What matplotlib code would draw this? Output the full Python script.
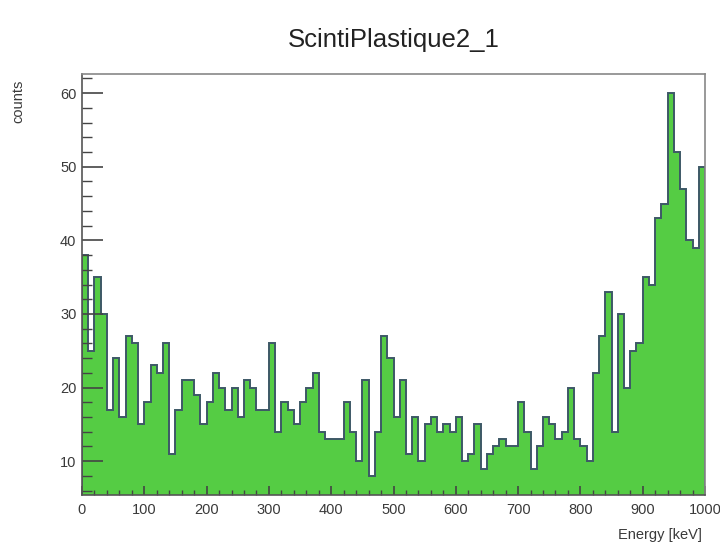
import matplotlib
matplotlib.use("Agg")
import matplotlib.pyplot as plt
import numpy as np
from matplotlib.ticker import MultipleLocator

title = "ScintiPlastique2_1"
x_label = "Energy [keV]"
y_label = "counts"
energy_min, energy_max = 0, 1000

counts = [
    38, 25, 35, 30, 17, 24, 16, 27, 26, 15,
    18, 23, 22, 26, 11, 17, 21, 21, 19, 15,
    18, 22, 20, 17, 20, 16, 21, 20, 17, 17,
    26, 14, 18, 17, 15, 18, 20, 22, 14, 13,
    13, 13, 18, 14, 10, 21, 8, 14, 27, 24,
    16, 21, 11, 16, 10, 15, 16, 14, 15, 14,
    16, 10, 11, 15, 9, 11, 12, 13, 12, 12,
    18, 14, 9, 12, 16, 15, 13, 14, 20, 13,
    12, 10, 22, 27, 33, 14, 30, 20, 25, 26,
    35, 34, 43, 45, 60, 52, 47, 40, 39, 50,
]
edges = np.linspace(energy_min, energy_max, len(counts) + 1)

plt.rcParams["font.family"] = ["Liberation Sans", "DejaVu Sans"]

W, H = 720, 547
fig = plt.figure(figsize=(W / 100, H / 100), dpi=100)
ax = fig.add_axes([82 / W, 52 / H, 623 / W, 421 / H])

fill_color = "#55cc44"
line_color = "#3d5866"
ax.stairs(counts, edges, fill=True, color=fill_color, baseline=0)
ax.stairs(counts, edges, color=line_color, lw=1.4, baseline=0)

ax.set_xlim(energy_min, energy_max)
ax.set_ylim(5.4, 62.6)

ax.xaxis.set_major_locator(MultipleLocator(100))
ax.xaxis.set_minor_locator(MultipleLocator(20))
ax.yaxis.set_major_locator(MultipleLocator(10))
ax.yaxis.set_minor_locator(MultipleLocator(2))

ax.tick_params(which="both", direction="in", top=False, right=False,
               colors="#444444", labelcolor="#3a3a3a", labelsize=10.5)
ax.tick_params(axis="y", which="major", length=15, width=1.2, pad=4)
ax.tick_params(axis="y", which="minor", length=7, width=1.0)
ax.tick_params(axis="x", which="major", length=6.5, width=1.2, pad=6)
ax.tick_params(axis="x", which="minor", length=3.6, width=1.0)

for side in ["top", "right"]:
    ax.spines[side].set_color("#888888")
    ax.spines[side].set_linewidth(1.2)
for side in ["left", "bottom"]:
    ax.spines[side].set_color("#555555")
    ax.spines[side].set_linewidth(1.2)

fig.text(394 / W, 1 - 40 / H, title, ha="center", va="center", fontsize=18.5, color="#222222")
fig.text(702 / W, 1 - 535 / H, x_label, ha="right", va="center", fontsize=10.5, color="#3a3a3a")
fig.text(18 / W, 1 - 80 / H, y_label, rotation=90, ha="center", va="top", fontsize=10.5, color="#3a3a3a")

fig.savefig("out.png", dpi=100)
